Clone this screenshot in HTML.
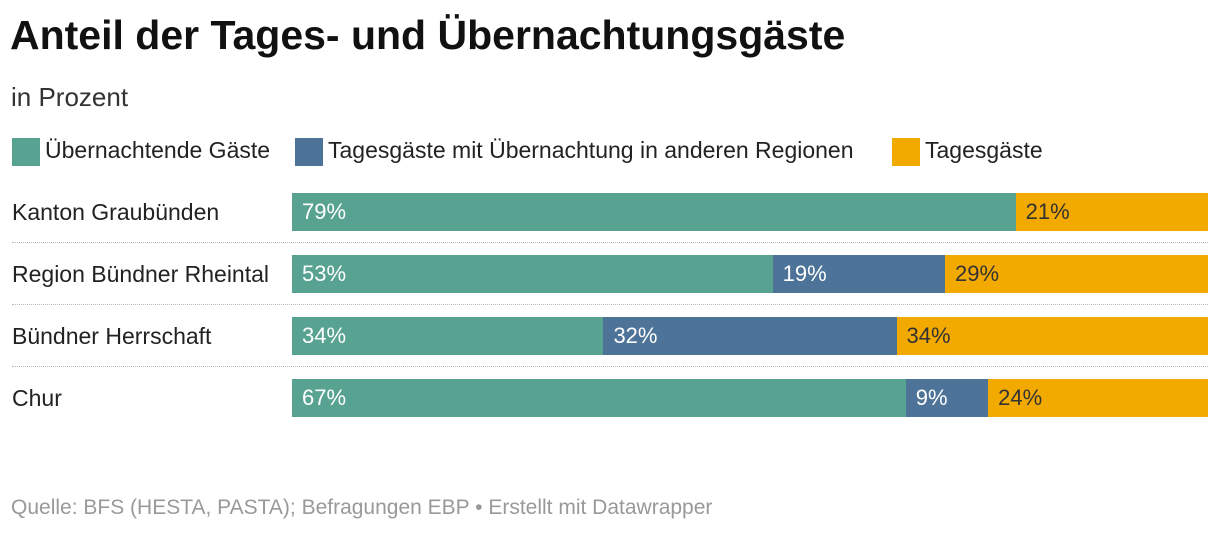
<!DOCTYPE html>
<html><head><meta charset="utf-8"><style>
body{margin:0;width:1220px;height:534px;background:#fff;font-family:"Liberation Sans",sans-serif;position:relative;overflow:hidden;color:#222}
.t{position:absolute;white-space:nowrap}
</style></head><body>
<div class="t" style="left:10px;top:12px;font-size:41px;font-weight:bold;color:#111">Anteil der Tages- und Übernachtungsgäste</div>
<div class="t" style="left:11px;top:82px;font-size:26px;color:#333">in Prozent</div>
<div>
<div class="t" style="left:12px;top:137px;font-size:23px"><span style="display:inline-block;width:28px;height:28px;background:#58a291;vertical-align:middle;margin-right:5px"></span>Übernachtende Gäste</div>
<div class="t" style="left:295px;top:137px;font-size:23px"><span style="display:inline-block;width:28px;height:28px;background:#4e7399;vertical-align:middle;margin-right:5px"></span>Tagesgäste mit Übernachtung in anderen Regionen</div>
<div class="t" style="left:892px;top:137px;font-size:23px"><span style="display:inline-block;width:28px;height:28px;background:#f2a900;vertical-align:middle;margin-right:5px"></span>Tagesgäste</div>
</div>
<div id="chart"></div>
<div class="t" style="left:11px;top:496px;font-size:21px;color:#999">Quelle: BFS (HESTA, PASTA); Befragungen EBP • Erstellt mit Datawrapper</div>
<script>
const categories=["Kanton Graubünden","Region Bündner Rheintal","Bündner Herrschaft","Chur"];
const uebernachtende=[79,53,34,67];
const tagesAndere=[0,19,32,9];
const tagesgaeste=[21,29,34,24];
const seriesColors=["#58a291","#4e7399","#f2a900"];
const x0=292,x1=1208,rowTop=193,rowStep=62,barH=38;
const chart=document.getElementById('chart');
categories.forEach((c,i)=>{
  const vals=[uebernachtende[i],tagesAndere[i],tagesgaeste[i]];
  const sum=vals.reduce((a,b)=>a+b,0);
  const xs=v=>x0+(x1-x0)*v/sum;
  const y=rowTop+i*rowStep;
  const lab=document.createElement('div');
  lab.className='t';
  
  
  lab.style.cssText=`left:12px;top:${y+6}px;font-size:23px;color:#222`;
  lab.textContent=c;chart.appendChild(lab);
  let acc=0;
  vals.forEach((v,s)=>{
    if(v<=0)return;
    const l=xs(acc),r=xs(acc+v);acc+=v;
    const b=document.createElement('div');
    
    
    b.style.cssText=`position:absolute;left:${l}px;top:${y}px;width:${r-l}px;height:${barH}px;background:${seriesColors[s]};color:${s==2?'#333':'#fff'};font-size:22px;line-height:${barH}px;box-sizing:border-box;padding-left:10px;white-space:nowrap`;
    b.textContent=v+'%';chart.appendChild(b);
  });
  if(i<categories.length-1){
    const d=document.createElement('div');
    
    
    d.style.cssText=`position:absolute;left:12px;top:${y+barH+11}px;width:${x1-12}px;border-top:1px dotted #bbb`;
    chart.appendChild(d);
  }
});
</script>
</body></html>
